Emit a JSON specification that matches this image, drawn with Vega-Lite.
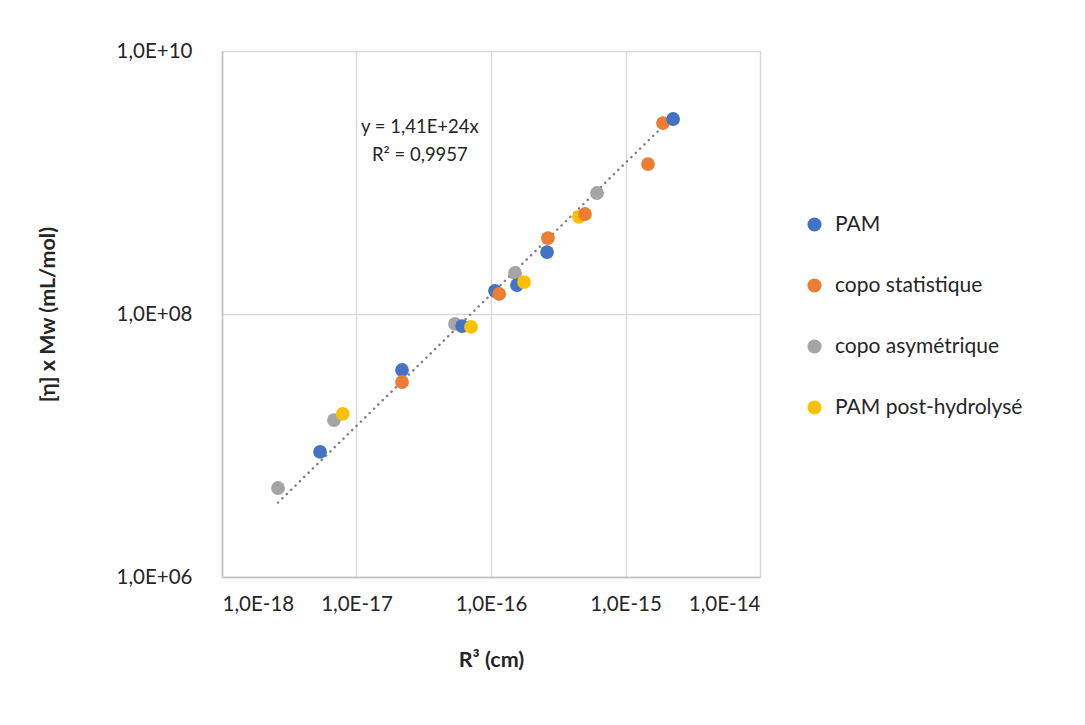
{
  "$schema": "https://vega.github.io/schema/vega-lite/v6.json",
  "width": 538,
  "height": 526,
  "autosize": "none",
  "padding": {"left": 222, "top": 51, "right": 325, "bottom": 148},
  "background": "white",
  "config": {
    "font": "Lato",
    "view": {"stroke": null},
    "axis": {
      "labelFont": "Lato",
      "titleFont": "Lato",
      "labelFontSize": 20.5,
      "labelColor": "#262626",
      "titleColor": "#262626",
      "titleFontSize": 21.5,
      "titleFontWeight": "bold",
      "gridColor": "#D9D9D9",
      "gridWidth": 1.5,
      "domainColor": "#BFBFBF",
      "domainWidth": 1.5,
      "ticks": false
    }
  },
  "datasets": {
    "pts": [
      {"R3": 2.61e-18, "v": 4.75e6, "serie": "copo asymétrique"},
      {"R3": 5.36e-18, "v": 8.93e6, "serie": "PAM"},
      {"R3": 6.8e-18, "v": 1.56e7, "serie": "copo asymétrique"},
      {"R3": 7.9e-18, "v": 1.74e7, "serie": "PAM post-hydrolysé"},
      {"R3": 2.18e-17, "v": 3.75e7, "serie": "PAM"},
      {"R3": 2.18e-17, "v": 3.04e7, "serie": "copo statistique"},
      {"R3": 5.4e-17, "v": 8.4e7, "serie": "copo asymétrique"},
      {"R3": 6.1e-17, "v": 8.1e7, "serie": "PAM"},
      {"R3": 7.1e-17, "v": 7.97e7, "serie": "PAM post-hydrolysé"},
      {"R3": 1.07e-16, "v": 1.5e8, "serie": "PAM"},
      {"R3": 1.15e-16, "v": 1.42e8, "serie": "copo statistique"},
      {"R3": 1.51e-16, "v": 2.05e8, "serie": "copo asymétrique"},
      {"R3": 1.56e-16, "v": 1.66e8, "serie": "PAM"},
      {"R3": 1.76e-16, "v": 1.75e8, "serie": "PAM post-hydrolysé"},
      {"R3": 2.61e-16, "v": 2.96e8, "serie": "PAM"},
      {"R3": 2.65e-16, "v": 3.78e8, "serie": "copo statistique"},
      {"R3": 4.51e-16, "v": 5.47e8, "serie": "PAM post-hydrolysé"},
      {"R3": 5.0e-16, "v": 5.76e8, "serie": "copo statistique"},
      {"R3": 6.14e-16, "v": 8.32e8, "serie": "copo asymétrique"},
      {"R3": 1.47e-15, "v": 1.38e9, "serie": "copo statistique"},
      {"R3": 1.9e-15, "v": 2.83e9, "serie": "copo statistique"},
      {"R3": 2.26e-15, "v": 3.04e9, "serie": "PAM"}
    ],
    "trend": [
      {"R3": 2.61e-18, "v": 3.68e6},
      {"R3": 2.2e-15, "v": 3.1e9}
    ],
    "eq": [
      {"R3": 2.96e-17, "v": 2.64e9, "t": "y = 1,41E+24x"},
      {"R3": 2.96e-17, "v": 1.62e9, "t": "R² = 0,9957"}
    ]
  },
  "layer": [
    {
      "data": {"name": "trend"},
      "mark": {"type": "line", "color": "#7F7F7F", "strokeWidth": 2.5, "strokeDash": [0.1, 6], "strokeCap": "round"},
      "encoding": {
        "x": {"field": "R3", "type": "quantitative", "scale": {"type": "log", "domain": [1e-18, 1e-14]}},
        "y": {"field": "v", "type": "quantitative", "scale": {"type": "log", "domain": [1e6, 1e10]}}
      }
    },
    {
      "data": {"name": "pts"},
      "mark": {"type": "point", "filled": true, "opacity": 1, "size": 190, "shape": "circle"},
      "encoding": {
        "x": {
          "field": "R3", "type": "quantitative",
          "scale": {"type": "log", "domain": [1e-18, 1e-14]},
          "axis": {
            "title": "R³ (cm)",
            "values": [1e-18, 1e-17, 1e-16, 1e-15, 1e-14],
            "labelExpr": "'1,0E' + (datum.value >= 1 ? '+' : '-') + (abs(round(log(datum.value)/LN10)) < 10 ? '0' : '') + abs(round(log(datum.value)/LN10))",
            "labelPadding": 17,
            "titleX": 269,
            "titleY": 83,
            "titleBaseline": "middle",
            "titleAnchor": null
          }
        },
        "y": {
          "field": "v", "type": "quantitative",
          "scale": {"type": "log", "domain": [1e6, 1e10]},
          "axis": {
            "title": "[η] x Mw (mL/mol)",
            "values": [1e6, 1e8, 1e10],
            "labelExpr": "'1,0E' + (datum.value >= 1 ? '+' : '-') + (abs(round(log(datum.value)/LN10)) < 10 ? '0' : '') + abs(round(log(datum.value)/LN10))",
            "labelPadding": 30,
            "titleX": -174,
            "titleY": 263,
            "titleAngle": -90,
            "titleBaseline": "middle",
            "titleAlign": "center"
          }
        },
        "color": {
          "field": "serie", "type": "nominal",
          "scale": {
            "domain": ["PAM", "copo statistique", "copo asymétrique", "PAM post-hydrolysé"],
            "range": ["#4472C4", "#ED7D31", "#A5A5A5", "#FFC000"]
          },
          "legend": {
            "title": null,
            "orient": "none",
            "legendX": 582,
            "legendY": 163,
            "labelFont": "Lato",
            "labelFontSize": 21,
            "labelColor": "#262626",
            "labelLimit": 400,
            "symbolSize": 200,
            "symbolType": "circle",
            "rowPadding": 39,
            "labelOffset": 10
          }
        }
      }
    },
    {
      "data": {"name": "eq"},
      "mark": {"type": "text", "font": "Lato", "fontSize": 18.5, "color": "#262626", "align": "center", "baseline": "middle"},
      "encoding": {
        "x": {"field": "R3", "type": "quantitative"},
        "y": {"field": "v", "type": "quantitative"},
        "text": {"field": "t"}
      }
    }
  ]
}
